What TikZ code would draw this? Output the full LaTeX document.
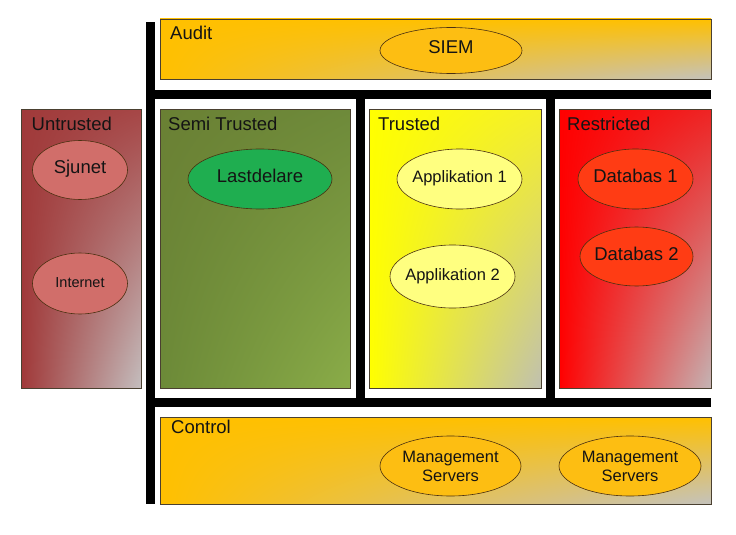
\documentclass[tikz,border=0pt]{standalone}
\usepackage{fontspec}
\setmainfont{Liberation Sans}
\usetikzlibrary{shapes.geometric,shadings}
\definecolor{gold}{HTML}{FFC000}
\definecolor{goldgray}{HTML}{C4C2BC}
\definecolor{utUL}{HTML}{A03A3A}
\definecolor{utUR}{HTML}{A64646}
\definecolor{utLL}{HTML}{A03838}
\definecolor{utLR}{HTML}{C4BEBE}
\definecolor{stUL}{HTML}{6A8034}
\definecolor{stUR}{HTML}{6E8A3A}
\definecolor{stLL}{HTML}{6C8A38}
\definecolor{stLR}{HTML}{8AAC48}
\definecolor{trUL}{HTML}{FFFF00}
\definecolor{trUR}{HTML}{F6F028}
\definecolor{trLL}{HTML}{FFFF00}
\definecolor{trLR}{HTML}{C0C0B0}
\definecolor{reUL}{HTML}{FF0000}
\definecolor{reUR}{HTML}{EE2424}
\definecolor{reLL}{HTML}{FF0000}
\definecolor{reLR}{HTML}{C4B4B4}
\definecolor{zoneborder}{HTML}{4A4030}
\definecolor{ellborder}{HTML}{4A3010}
\definecolor{untell}{HTML}{D16E6A}
\definecolor{greenell}{HTML}{1FAE50}
\definecolor{goldell}{HTML}{FDBE12}
\definecolor{yellell}{HTML}{FFFF80}
\definecolor{redell}{HTML}{FF3C14}
\definecolor{txt}{HTML}{141414}
\newcommand{\mk}[1]{\makebox[0pt]{#1}}
\begin{document}
\begin{tikzpicture}[x=1pt,y=-1pt,
  zone/.style={draw=zoneborder, line width=0.8pt, rectangle, anchor=north west, inner sep=0pt, outer sep=0pt},
  goldzone/.style={zone, upper left=gold, upper right=gold, lower left=gold, lower right=goldgray},
  lbl/.style={anchor=base west, inner sep=0pt, text=txt, font=\fontsize{18.5}{20}\selectfont},
  ell/.style={ellipse, draw=ellborder, line width=0.6pt, inner sep=0pt, text=txt, text height=0.7em, text depth=0pt},
  bigt/.style={font=\fontsize{18.5}{20}\selectfont},
  midt/.style={font=\fontsize{16.5}{19}\selectfont},
  bar/.style={fill=black}
]
\useasboundingbox (0,0) rectangle (736,535);
% zones
\node[goldzone, minimum width=551pt, minimum height=60pt] (audit) at (160,19) {};
\node[zone, minimum width=120pt, minimum height=279pt, upper left=utUL, upper right=utUR, lower left=utLL, lower right=utLR] (untrusted) at (21,109) {};
\node[zone, minimum width=190pt, minimum height=279pt, upper left=stUL, upper right=stUR, lower left=stLL, lower right=stLR] (semi) at (160,109) {};
\node[zone, minimum width=172pt, minimum height=279pt, upper left=trUL, upper right=trUR, lower left=trLL, lower right=trLR] (trusted) at (369,109) {};
\node[zone, minimum width=152pt, minimum height=279pt, upper left=reUL, upper right=reUR, lower left=reLL, lower right=reLR] (restricted) at (559,109) {};
\node[goldzone, minimum width=551pt, minimum height=87pt] (control) at (160,417) {};
% bars
\fill[bar] (146,22) rectangle (155,504);
\fill[bar] (155,89.5) rectangle (711,98.5);
\fill[bar] (356,98.5) rectangle (364.5,398);
\fill[bar] (545.5,98.5) rectangle (555,398);
\fill[bar] (155,398) rectangle (711,407);
% labels
\node[lbl] (auditlbl) at (170,40) {Audit};
\node[lbl] (untlbl) at (31.5,130) {Untrusted};
\node[lbl] (semilbl) at (168,130) {Semi Trusted};
\node[lbl] (trlbl) at (378,130) {Trusted};
\node[lbl] (relbl) at (567,130) {Restricted};
\node[lbl] (ctllbl) at (171,433) {Control};
% ellipses
\node[ell, bigt, fill=goldell, minimum width=142pt, minimum height=46pt] (siem) at (451,50.5) {\mk{SIEM}};
\node[ell, bigt, fill=untell, minimum width=95pt, minimum height=59pt] (sjunet) at (80,170) {\mk{Sjunet}};
\node[ell, fill=untell, minimum width=95pt, minimum height=61pt, font=\fontsize{14.5}{16}\selectfont] (internet) at (80,283.5) {\mk{Internet}};
\node[ell, bigt, fill=greenell, minimum width=144pt, minimum height=60pt] (lastdelare) at (260,179) {\mk{Lastdelare}};
\node[ell, midt, fill=yellell, minimum width=125pt, minimum height=60pt] (app1) at (459.5,179) {\mk{Applikation 1}};
\node[ell, midt, fill=yellell, minimum width=125pt, minimum height=63pt] (app2) at (452.5,276.5) {\mk{Applikation 2}};
\node[ell, bigt, fill=redell, minimum width=115pt, minimum height=60pt] (db1) at (635.5,179) {\mk{Databas 1}};
\node[ell, bigt, fill=redell, minimum width=113pt, minimum height=59pt] (db2) at (636.5,256.5) {\mk{Databas 2}};
\node[ell, midt, fill=goldell, minimum width=141pt, minimum height=60pt, align=center, text height=, text depth=] (mgmt1) at (450.5,466) {Management\\Servers};
\node[ell, midt, fill=goldell, minimum width=142pt, minimum height=60pt, align=center, text height=, text depth=] (mgmt2) at (630,466) {Management\\Servers};
\end{tikzpicture}
\end{document}
